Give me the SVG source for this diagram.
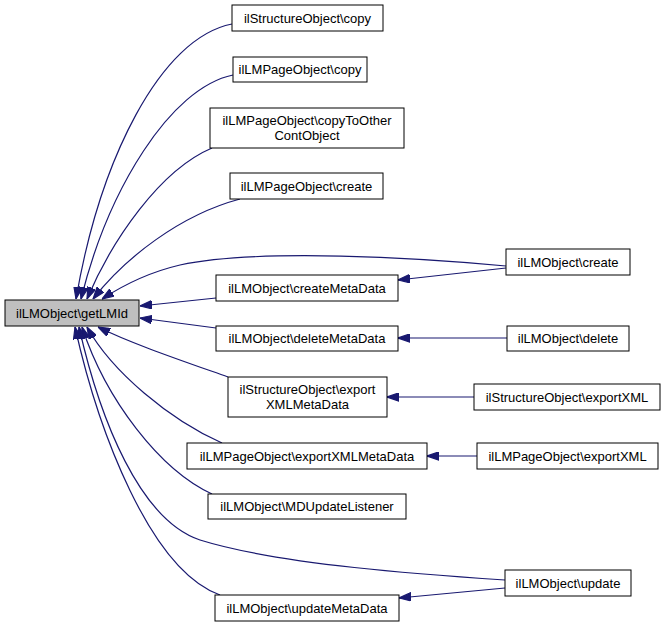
<svg xmlns="http://www.w3.org/2000/svg" width="667" height="627" viewBox="0 0 667 627">
<defs>
<style>
.n rect{fill:#ffffff;stroke:#000000;stroke-width:1}
.n.root rect{fill:#bfbfbf}
.n text{font-family:"Liberation Sans",Arial,Helvetica,sans-serif;font-size:13px;text-anchor:middle;fill:#000000}
.e path{fill:none;stroke:#191970;stroke-width:1.2;marker-end:url(#ah)}
</style>
<marker id="ah" viewBox="0 0 10 7" refX="10" refY="3.5" markerWidth="12" markerHeight="9" markerUnits="userSpaceOnUse" orient="auto">
<path d="M0,0 L10,3.5 L0,7 Z" fill="#191970" stroke="#191970"/>
</marker>
</defs>
<rect width="667" height="627" fill="#ffffff"/>
<g id="connectors" class="e">
<path d="M232,24 C160,38 100,160 76,299"/>
<path d="M233,75 C170,88 108,190 81,299"/>
<path d="M212,148 C160,170 112,240 87,299"/>
<path d="M240,199 C180,215 125,258 93,299"/>
<path d="M506,266 C420,258 260,248 180,265 C150,272 125,284 102,299"/>
<path d="M216,298 L140,306"/>
<path d="M216,328 L140,318"/>
<path d="M228,377 C180,360 130,343 98,327"/>
<path d="M222,443 C170,420 112,372 87,327"/>
<path d="M212,494 C160,470 106,400 82,327"/>
<path d="M505,580 C430,575 280,565 200,540 C140,520 100,420 79,327"/>
<path d="M220,595 C150,570 98,430 75,327"/>
<path d="M506,268 L398,280"/>
<path d="M507,338 L398,338"/>
<path d="M474,397 L387,397"/>
<path d="M477,456 L427,456"/>
<path d="M505,588 L399,598"/>
</g>
<g id="getLMId" class="n root"><rect x="5" y="300" width="134" height="26"/><text x="72" y="317.5">ilLMObject\getLMId</text></g>
<g id="structCopy" class="n"><rect x="232" y="5" width="151" height="26"/><text x="307.5" y="22.5">ilStructureObject\copy</text></g>
<g id="pageCopy" class="n"><rect x="233" y="57" width="134" height="25"/><text x="300" y="74">ilLMPageObject\copy</text></g>
<g id="pageCopyToOther" class="n"><rect x="210" y="108" width="194" height="40"/><text x="307" y="124.5">ilLMPageObject\copyToOther</text><text x="307" y="139.5">ContObject</text></g>
<g id="pageCreate" class="n"><rect x="230" y="173" width="153" height="26"/><text x="306.5" y="190.5">ilLMPageObject\create</text></g>
<g id="createMetaData" class="n"><rect x="216" y="275" width="182" height="26"/><text x="307" y="292.5">ilLMObject\createMetaData</text></g>
<g id="deleteMetaData" class="n"><rect x="216" y="326" width="182" height="25"/><text x="307" y="343">ilLMObject\deleteMetaData</text></g>
<g id="structExportXMLMetaData" class="n"><rect x="228" y="377" width="159" height="40"/><text x="307.5" y="393.5">ilStructureObject\export</text><text x="307.5" y="408.5">XMLMetaData</text></g>
<g id="pageExportXMLMetaData" class="n"><rect x="187" y="443" width="240" height="26"/><text x="307" y="460.5">ilLMPageObject\exportXMLMetaData</text></g>
<g id="mdUpdateListener" class="n"><rect x="208" y="494" width="198" height="25"/><text x="307" y="511">ilLMObject\MDUpdateListener</text></g>
<g id="updateMetaData" class="n"><rect x="215" y="595" width="184" height="26"/><text x="307" y="612.5">ilLMObject\updateMetaData</text></g>
<g id="lmCreate" class="n"><rect x="506" y="249" width="124" height="26"/><text x="568" y="266.5">ilLMObject\create</text></g>
<g id="lmDelete" class="n"><rect x="507" y="326" width="122" height="25"/><text x="568" y="343">ilLMObject\delete</text></g>
<g id="structExportXML" class="n"><rect x="474" y="384" width="186" height="26"/><text x="567" y="401.5">ilStructureObject\exportXML</text></g>
<g id="pageExportXML" class="n"><rect x="477" y="443" width="181" height="26"/><text x="567.5" y="460.5">ilLMPageObject\exportXML</text></g>
<g id="lmUpdate" class="n"><rect x="505" y="570" width="126" height="26"/><text x="568" y="587.5">ilLMObject\update</text></g>
</svg>
